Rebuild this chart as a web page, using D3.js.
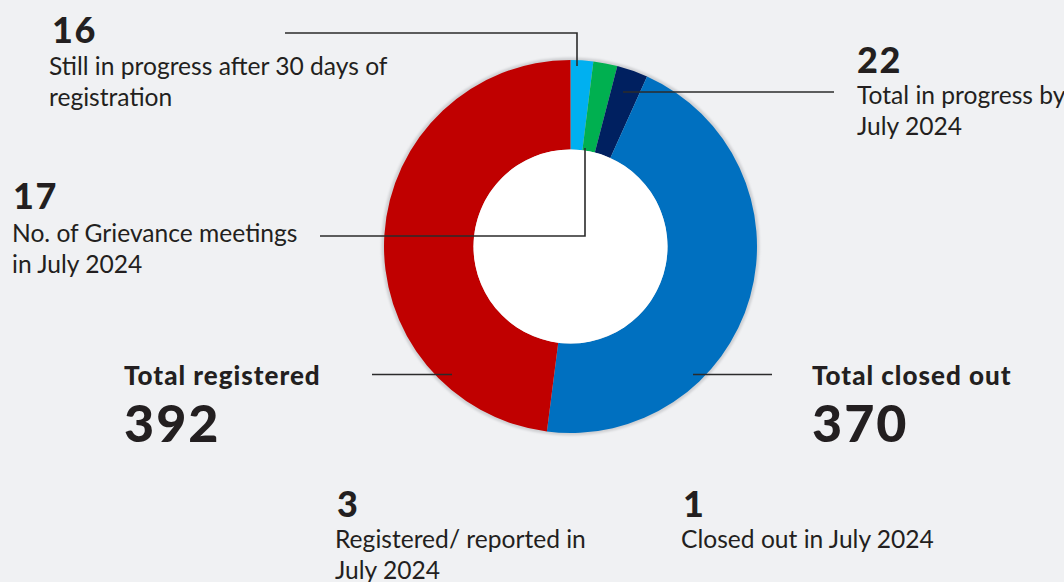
<!DOCTYPE html>
<html>
<head>
<meta charset="utf-8">
<script src="https://cdn.jsdelivr.net/npm/d3@7"></script>
<style>
  body { margin: 0; background: #f0f1f3; }
  text { font-family: Lato, "Noto Sans", sans-serif; fill: #231f20; }
</style>
</head>
<body>
<div id="container"></div>
<script>
// donut data (order = clockwise from 12 o'clock)
const sliceLabels = [
  "Still in progress after 30 days of\nregistration",
  "No. of Grievance meetings\nin July 2024",
  "Total in progress by\nJuly 2024",
  "Total closed out",
  "Total registered"
];
const sliceValues = [16, 17, 22, 370, 392];

// monthly figures shown under the chart
const monthLabels = ["Registered/ reported in\nJuly 2024", "Closed out in July 2024"];
const monthValues = [3, 1];

const sliceColors = ["#00b0f0", "#00b050", "#002060", "#0070c0", "#c00000"];

var width = 1064,
  height = 582;
const cx = 570.5,
  cy = 246.5,
  rOuter = 186.5,
  rInner = 97;

const svg = d3
  .select("#container")
  .append("svg")
  .attr("width", width)
  .attr("height", height);

svg.append("rect").attr("width", width).attr("height", height).attr("fill", "#f0f1f3");

const defs = svg.append("defs");
defs
  .append("filter")
  .attr("id", "halo")
  .append("feGaussianBlur")
  .attr("stdDeviation", 1.2);

const color = d3.scaleOrdinal().domain(sliceLabels).range(sliceColors);

const donut = svg.append("g").attr("transform", `translate(${cx},${cy})`);

// soft grey rim round the ring
donut
  .append("circle")
  .attr("r", rOuter + 2.5)
  .attr("fill", "#cfd0d3")
  .attr("filter", "url(#halo)");

const pie = d3.pie().sort(null).value(d => d)(sliceValues);
const arc = d3.arc().innerRadius(rInner).outerRadius(rOuter);

donut
  .selectAll("path")
  .data(pie)
  .enter()
  .append("path")
  .attr("d", arc)
  .attr("fill", (d, i) => color(sliceLabels[i]));

donut.append("circle").attr("r", rInner).attr("fill", "#ffffff");

// leader lines
const leaders = [
  [[285, 33], [577, 33], [577, 66]],
  [[320, 236], [585, 236], [585, 148]],
  [[623, 92], [834, 92]],
  [[693, 374.5], [772, 374.5]],
  [[372, 374.5], [452, 374.5]]
];

svg
  .append("g")
  .selectAll("path")
  .data(leaders)
  .enter()
  .append("path")
  .attr("d", d => d3.line()(d))
  .attr("fill", "none")
  .attr("stroke", "#2b2b2b")
  .attr("stroke-width", 1.6);

// label placement: small blocks = number on top, description below
const smallLayout = [
  { nx: 52, ny: 43, tx: 49, ty: 75 },
  { nx: 13, ny: 209, tx: 12, ty: 242 },
  { nx: 857, ny: 73, tx: 857, ty: 104 }
];
const bigLayout = {
  3: { x: 812, ty: 385, ny: 442 },
  4: { x: 124, ty: 385, ny: 442 }
};
const monthLayout = [
  { nx: 337, ny: 517, tx: 335, ty: 548 },
  { nx: 683, ny: 517, tx: 681, ty: 548 }
];
const lineH = 30.5;

const labels = svg.append("g").attr("id", "labels");

function smallBlock(value, label, pos) {
  labels
    .append("text")
    .attr("x", pos.nx)
    .attr("y", pos.ny)
    .attr("font-size", "36px")
    .attr("font-weight", 900)
    .attr("letter-spacing", "1.5px")
    .text(value);
  const t = labels
    .append("text")
    .attr("x", pos.tx)
    .attr("y", pos.ty)
    .attr("font-size", "24.6px");
  label.split("\n").forEach((line, i) => {
    t.append("tspan")
      .attr("x", pos.tx)
      .attr("y", pos.ty + i * lineH)
      .text(line);
  });
}

sliceValues.forEach((v, i) => {
  if (i < 3) {
    smallBlock(v, sliceLabels[i], smallLayout[i]);
  } else {
    const p = bigLayout[i];
    labels
      .append("text")
      .attr("x", p.x)
      .attr("y", p.ty)
      .attr("font-size", "26px")
      .attr("font-weight", 900)
      .attr("letter-spacing", "1px")
      .text(sliceLabels[i]);
    labels
      .append("text")
      .attr("x", p.x)
      .attr("y", p.ny)
      .attr("font-size", "52px")
      .attr("font-weight", 900)
      .attr("letter-spacing", "2px")
      .text(v);
  }
});

monthValues.forEach((v, i) => smallBlock(v, monthLabels[i], monthLayout[i]));
</script>
</body>
</html>
